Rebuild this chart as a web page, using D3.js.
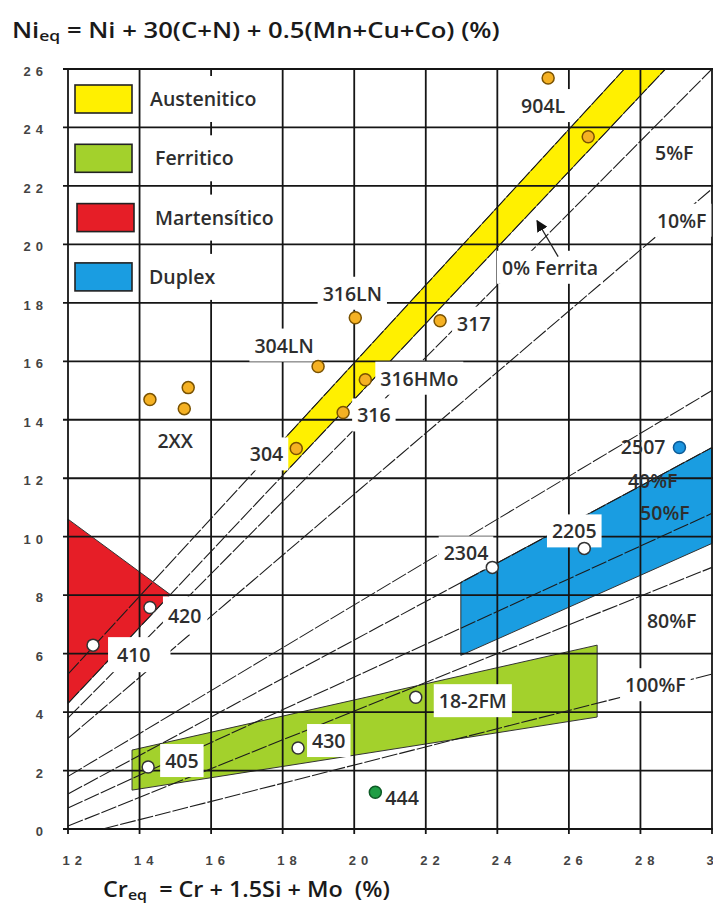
<!DOCTYPE html>
<html>
<head>
<meta charset="utf-8">
<script src="https://cdn.jsdelivr.net/npm/d3@7"></script>
<style>
  html, body { margin: 0; padding: 0; background: #fff; }
  svg { display: block; }
</style>
</head>
<body>
<svg id="chart" width="713" height="911"></svg>
<script>
// ---- Axis ticks -------------------------------------------------------
const xTicks = [12, 14, 16, 18, 20, 22, 24, 26, 28, 30];
const yTicks = [0, 2, 4, 6, 8, 10, 12, 14, 16, 18, 20, 22, 24, 26];

// ---- Iso-ferrite lines: [name, Creq1, Nieq1, Creq2, Nieq2] --------------
const ferriteLines = [
  ["A-edge", 12, 5.3, 27.55, 26],
  ["0%F", 12, 4.3, 28.7, 26],
  ["5%F", 12, 3.8, 30, 26],
  ["10%F", 12, 3.1, 30, 21.9],
  ["20%F", 12, 1.8, 30, 15.0],
  ["40%F", 12, 1.2, 30, 13.05],
  ["50%F", 12, 0.72, 30, 10.8],
  ["80%F", 12, 0.1, 30, 8.95],
  ["100%F", 12.97, 0, 30, 5.3]
];

// ---- Family regions (Creq, Nieq vertices) -------------------------------
const austeniticRegion = [[18, 13.29], [27.55, 26], [28.7, 26], [18, 12.1]];
const ferriticRegion = [[13.79, 2.70], [26.79, 6.29], [26.79, 3.83], [13.79, 1.33]];
const martensiticRegion = [[12, 10.6], [14.86, 8.02], [12, 4.3]];
const duplexRegion = [[22.98, 8.44], [30, 13.05], [30, 9.77], [22.98, 5.94]];

// ---- Legend --------------------------------------------------------------
const legendLabels = ["Austenitico", "Ferritico", "Martensítico", "Duplex"];

// ---- Steel grades: [name, Creq, Nieq] -------------------------------------
const austeniticGrades = [
  ["904L", 25.42, 25.69], ["", 26.54, 23.68], ["317", 22.40, 17.39],
  ["316LN", 20.03, 17.49], ["304LN", 18.99, 15.82], ["316HMo", 20.31, 15.37],
  ["316", 19.69, 14.25], ["304", 18.38, 13.02]
];
const grades2XX = [[14.29, 14.69], [15.36, 15.10], [15.25, 14.38]];
const martensiticGrades = [["410", 12.70, 6.29], ["420", 14.29, 7.58]];
const ferriticGrades = [["405", 14.24, 2.12], ["430", 18.43, 2.77], ["18-2FM", 21.72, 4.51]];
const superFerriticGrades = [["444", 20.59, 1.26]];
const duplexGrades = [["2304", 23.86, 8.95], ["2205", 26.43, 9.60]];
const superDuplexGrades = [["2507", 29.09, 13.05]];

// ---- Ferrite-content annotations: [text, Creq, Nieq] ----------------------
const ferriteNotes = [
  ["5%F", 28.41, 22.89], ["10%F", 28.46, 20.57], ["40%F", 27.65, 11.65],
  ["50%F", 27.99, 10.56], ["80%F", 28.18, 6.87], ["100%F", 27.57, 4.68],
  ["0% Ferrita", 24.13, 18.96]
];
const arrowFromTo = [25.70, 19.58, 25.11, 20.81];

// ---------------------------------------------------------------------------
const svg = d3.select("#chart");
const x = d3.scaleLinear().domain([12, 30]).range([68, 712]);
const y = d3.scaleLinear().domain([0, 26]).range([829, 69]);
const FONT = "'Open Sans', 'Noto Sans', sans-serif";
const INK = "#2e2e2e";

// Regions
const regionStyles = [
  [austeniticRegion, "#fff000"],
  [ferriticRegion, "#a3d12c"],
  [martensiticRegion, "#e61e27"],
  [duplexRegion, "#1a9de1"]
];
const line = d3.line().x(d => x(d[0])).y(d => y(d[1]));
svg.append("g").selectAll("path").data(regionStyles).join("path")
  .attr("d", d => line(d[0]) + "Z")
  .attr("fill", d => d[1])
  .attr("stroke", "#333").attr("stroke-width", 1);

// Grid lines
const grid = svg.append("g").attr("stroke", "#151515").attr("stroke-width", 1.8);
grid.selectAll("line.v").data(xTicks).join("line").attr("class", "v")
  .attr("x1", d => x(d)).attr("x2", d => x(d))
  .attr("y1", y(26)).attr("y2", y(0) + 5);
grid.selectAll("line.h").data(yTicks).join("line").attr("class", "h")
  .attr("x1", x(12) - 5).attr("x2", x(30) + 2)
  .attr("y1", d => y(d)).attr("y2", d => y(d));

// Tick labels through the axes
const tickStyle = g => {
  g.select(".domain").remove();
  g.selectAll(".tick line").remove();
  g.selectAll(".tick text")
    .attr("fill", "#444")
    .style("font-family", "'Liberation Sans', Arial, sans-serif")
    .style("font-weight", "bold")
    .style("font-size", "13px")
    .style("letter-spacing", "5px");
};
const gy = svg.append("g").attr("transform", `translate(${x(12)},0)`)
  .call(d3.axisLeft(y).tickValues(yTicks).tickSize(0).tickPadding(20)).call(tickStyle);
gy.selectAll(".tick text").attr("dy", "0.5em");
const gx = svg.append("g").attr("transform", `translate(0,${y(0)})`)
  .call(d3.axisBottom(x).tickValues(xTicks).tickSize(0)).call(tickStyle);
gx.selectAll(".tick text").attr("text-anchor", "start").attr("x", -6).attr("y", 36).attr("dy", 0);

// Iso-ferrite lines
svg.append("g").selectAll("line").data(ferriteLines).join("line")
  .attr("x1", d => x(d[1])).attr("y1", d => y(d[2]))
  .attr("x2", d => x(d[3])).attr("y2", d => y(d[4]))
  .attr("stroke", "#1c1c1c").attr("stroke-width", 1.1)
  .attr("stroke-dasharray", "16,2");

// Legend
const legendColors = ["#fff000", "#a3d12c", "#e61e27", "#1a9de1"];
const lg = svg.append("g");
legendLabels.forEach((name, i) => {
  const top = 85 + i * 59.3;
  lg.append("rect").attr("x", 143).attr("y", top - 9).attr("width", 137).attr("height", 46).attr("fill", "#fff");
  lg.append("rect").attr("x", 75 + (i === 2 ? 2 : 0)).attr("y", top).attr("width", 57).attr("height", 28)
    .attr("fill", legendColors[i]).attr("stroke", "#222").attr("stroke-width", 1.6);
  lg.append("text").attr("x", [150, 155, 155, 149][i]).attr("y", top + 21)
    .attr("fill", INK).style("font-family", FONT).style("font-weight", 600).style("font-size", "19.5px")
    .text(name);
});

// Labels with a white background box
const labels = svg.append("g");
function addLabel(text, px, py, anchor, boxed, pad) {
  const g = labels.append("g");
  const t = g.append("text").attr("x", px).attr("y", py).attr("text-anchor", anchor)
    .attr("fill", INK).style("font-family", FONT).style("font-weight", 600).style("font-size", "19.5px")
    .text(text);
  if (boxed) {
    const b = t.node().getBBox();
    const p = pad || [5, 3, 5, 3];
    g.insert("rect", "text").attr("x", b.x - p[0]).attr("y", b.y - p[1])
      .attr("width", b.width + p[0] + p[2]).attr("height", b.height + p[1] + p[3]).attr("fill", "#fff");
  }
  return g;
}

// Label placement relative to each marker, in pixels: [dx, dy, anchor, boxed]
const labelPlacement = {
  "904L": [-5, 35, "middle", true],
  "317": [17, 10, "start", true],
  "316LN": [-3, -17, "middle", true],
  "304LN": [-34, -14, "middle", true],
  "316HMo": [15, 6, "start", true],
  "316": [14, 10, "start", true],
  "304": [-13, 13, "end", true],
  "410": [24, 17, "start", true],
  "420": [18, 16, "start", true],
  "405": [17, 1, "start", true],
  "430": [14, 0, "start", true],
  "18-2FM": [23, 11, "start", true],
  "444": [10, 13, "start", false],
  "2304": [-4, -7, "end", true],
  "2205": [-10, -10, "middle", true],
  "2507": [-14, 6, "end", false]
};
const boxPad = { "410": [9, 4, 20, 4], "420": [5, 6, 6, 5] };

const allNamed = [].concat(austeniticGrades, martensiticGrades, ferriticGrades,
  superFerriticGrades, duplexGrades, superDuplexGrades);
allNamed.forEach(([name, cr, ni]) => {
  const lp = labelPlacement[name];
  if (!lp) return;
  addLabel(name, x(cr) + lp[0], y(ni) + lp[1], lp[2], lp[3], boxPad[name]);
});
const cx2 = d3.mean(grades2XX, d => x(d[0]));
const cy2 = d3.mean(grades2XX, d => y(d[1]));
addLabel("2XX", cx2 + 1, cy2 + 49, "middle", true);

const boxedNotes = new Set(["10%F", "100%F", "0% Ferrita"]);
ferriteNotes.forEach(([txt, cr, ni]) => addLabel(txt, x(cr), y(ni), "start", boxedNotes.has(txt)));

// Arrow to the 0 % ferrite line
svg.append("defs").append("marker").attr("id", "head")
  .attr("viewBox", "0 0 10 10").attr("refX", 9).attr("refY", 5)
  .attr("markerWidth", 9).attr("markerHeight", 9).attr("orient", "auto")
  .append("path").attr("d", "M0,0 L10,5 L0,10 Z").attr("fill", "#111");
svg.append("line")
  .attr("x1", x(arrowFromTo[0])).attr("y1", y(arrowFromTo[1]))
  .attr("x2", x(arrowFromTo[2])).attr("y2", y(arrowFromTo[3]))
  .attr("stroke", "#222").attr("stroke-width", 1.3).attr("marker-end", "url(#head)");

// Markers
const markers = svg.append("g");
function dots(data, fill, stroke) {
  markers.append("g").selectAll("circle").data(data).join("circle")
    .attr("cx", d => x(d[d.length - 2])).attr("cy", d => y(d[d.length - 1]))
    .attr("r", 6).attr("fill", fill).attr("stroke", stroke).attr("stroke-width", 1.5);
}
dots(austeniticGrades, "#f5b123", "#7a5200");
dots(grades2XX, "#f5b123", "#7a5200");
dots(martensiticGrades, "#fff", "#333");
dots(ferriticGrades, "#fff", "#333");
dots(duplexGrades, "#fff", "#333");
dots(superFerriticGrades, "#1f9e45", "#0d5a25");
dots(superDuplexGrades, "#1c95df", "#0b5a96");

// Axis titles, stretched horizontally to their printed width
const tStyle = s => s.attr("fill", "#1a1a1a").style("font-family", FONT).style("font-weight", 600);
function stretchTitle(sel, left, width) {
  const b = sel.node().getBBox();
  const k = width / b.width;
  sel.attr("transform", `translate(${left},0) scale(${k},1) translate(${-left},0)`);
}
const title = svg.append("text").attr("x", 12).attr("y", 38).style("font-size", "22px").call(tStyle);
title.append("tspan").text("Ni");
title.append("tspan").attr("dy", 3).style("font-size", "15px").text("eq");
title.append("tspan").attr("dy", -3).text(" = Ni + 30(C+N) + 0.5(Mn+Cu+Co) (%)");
stretchTitle(title, 12, 488);

const xTitle = svg.append("text").attr("x", 103).attr("y", 897).style("font-size", "22px").call(tStyle);
xTitle.append("tspan").text("Cr");
xTitle.append("tspan").attr("dy", 3).style("font-size", "15px").text("eq");
xTitle.append("tspan").attr("dy", -3).text("\u00a0 = Cr + 1.5Si + Mo \u00a0(%)");
stretchTitle(xTitle, 103, 287);
</script>
</body>
</html>
